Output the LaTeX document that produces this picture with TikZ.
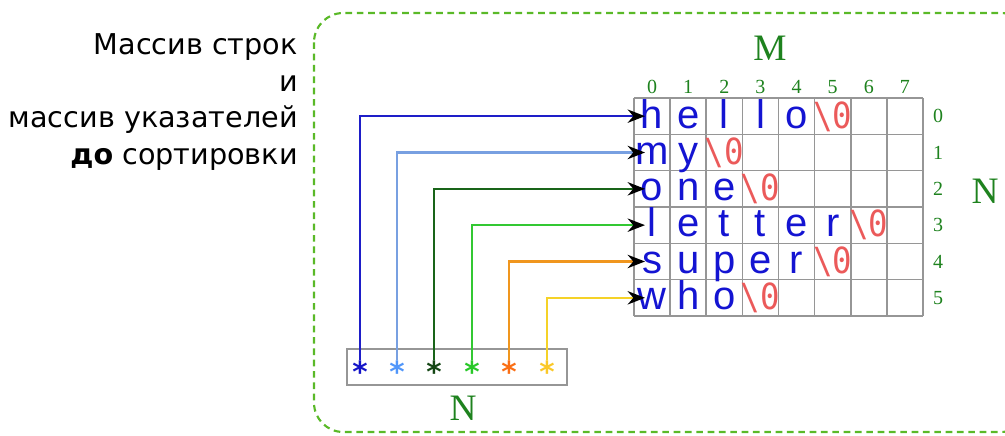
\documentclass[tikz,border=0pt]{standalone}
\usepackage{fontspec}
\setmainfont{DejaVu Sans}
\newfontfamily\monof{DejaVu Sans Mono}
\newfontfamily\labf{Liberation Serif}
\newfontfamily\letf{Liberation Sans}
\usetikzlibrary{arrows.meta}
\definecolor{lblue}{RGB}{20,20,210}
\definecolor{zred}{RGB}{235,90,90}
\definecolor{gridg}{RGB}{150,150,150}
\definecolor{labg}{RGB}{30,130,30}
\definecolor{dashg}{RGB}{90,185,40}
\definecolor{cA}{RGB}{30,30,200}
\definecolor{cB}{RGB}{120,160,225}
\definecolor{cC}{RGB}{25,100,25}
\definecolor{cD}{RGB}{50,200,50}
\definecolor{cE}{RGB}{240,150,30}
\definecolor{cF}{RGB}{245,210,40}
\definecolor{sA}{RGB}{20,20,200}
\definecolor{sB}{RGB}{80,150,250}
\definecolor{sC}{RGB}{20,70,20}
\definecolor{sD}{RGB}{40,200,40}
\definecolor{sE}{RGB}{250,110,20}
\definecolor{sF}{RGB}{250,200,40}
\tikzset{
  ch/.style={anchor=base,inner sep=0pt,text=lblue,font=\fontsize{30}{30}\letf},
  zr/.style={anchor=base,inner sep=0pt,text=zred,font=\fontsize{27}{27}\monof},
  lab/.style={inner sep=0pt,text=labg,font=\fontsize{15}{15}\labf},
  big/.style={inner sep=0pt,text=labg,font=\fontsize{28}{28}\labf},
  star/.style={anchor=base,inner sep=0pt,font=\fontsize{22}{22}\selectfont\bfseries},
  ptr/.style={line width=1.7pt,-{Stealth[black,length=13pt,width=10pt]}},
  gridline/.style={gridg,line width=1.2pt},
}
\newcommand{\nulchar}{\scalebox{0.9}[1]{\textbackslash0}}
\begin{document}
\begin{tikzpicture}[x=0.75pt,y=-0.75pt]
\useasboundingbox (0,0) rectangle (1005,435);
\begin{scope}
\clip (0,0) rectangle (1005,435);
\draw[dashg,line width=1.6pt,dash pattern=on 5pt off 3.5pt,rounded corners=22pt] (314,13) rectangle (1030,432);
\end{scope}
\node[anchor=east,align=right,inner sep=0pt,font=\fontsize{21.5}{27.5}\selectfont] (title) at (298,102)
  {Массив строк\\и\\массив указателей\\\textbf{до} сортировки};
% grid
\foreach \i in {0,...,8} \draw[gridline] ({634+36.125*\i},98) -- ({634+36.125*\i},316);
\foreach \j in {0,...,6} \draw[gridline] (634,{98+36.33*\j}) -- (923,{98+36.33*\j});
% column and row labels
\foreach \i in {0,...,7} \node[lab] (c\i) at ({634+36.125*(\i+0.5)},87) {\i};
\foreach \j in {0,...,5} \node[lab] (r\j) at (938,{98+36.33*(\j+0.5)}) {\j};
\node[big] (M) at (770,48) {M};
\node[big] (NR) at (985,191) {N};
\node[big] (NB) at (463,408) {N};
% letters
\def\cx#1{634+36.125*(#1+0.5)}
\def\by#1{98+36.33*#1+30}
\foreach \w [count=\j from 0] in {{h,e,l,l,o},{m,y},{o,n,e},{l,e,t,t,e,r},{s,u,p,e,r},{w,h,o}}{
  \foreach \c [count=\i from 0] in \w {
    \node[ch] (L\j-\i) at ({\cx{\i}},{\by{\j}}) {\c};
  }
}
\node[zr] (z0) at ({\cx{5}},{\by{0}}) {\nulchar};
\node[zr] (z1) at ({\cx{2}},{\by{1}}) {\nulchar};
\node[zr] (z2) at ({\cx{3}},{\by{2}}) {\nulchar};
\node[zr] (z3) at ({\cx{6}},{\by{3}}) {\nulchar};
\node[zr] (z4) at ({\cx{5}},{\by{4}}) {\nulchar};
\node[zr] (z5) at ({\cx{3}},{\by{5}}) {\nulchar};
% pointer box
\node[draw=gridg,line width=1.2pt,minimum width=165pt,minimum height=27pt,inner sep=0pt] (pbox) at (457,367) {};
\foreach \s/\x/\c in {0/360/sA,1/397/sB,2/434/sC,3/472/sD,4/509/sE,5/547/sF}
  \node[star,text=\c] (s\s) at (\x,382) {*};
% targets
\foreach \j in {0,...,5} \coordinate (t\j) at (645,{98+36.33*(\j+0.5)});
\draw[ptr,cA] (s0.north) |- (t0);
\draw[ptr,cB] (s1.north) |- (t1);
\draw[ptr,cC] (s2.north) |- (t2);
\draw[ptr,cD] (s3.north) |- (t3);
\draw[ptr,cE] (s4.north) |- (t4);
\draw[ptr,cF] (s5.north) |- (t5);
\end{tikzpicture}
\end{document}
